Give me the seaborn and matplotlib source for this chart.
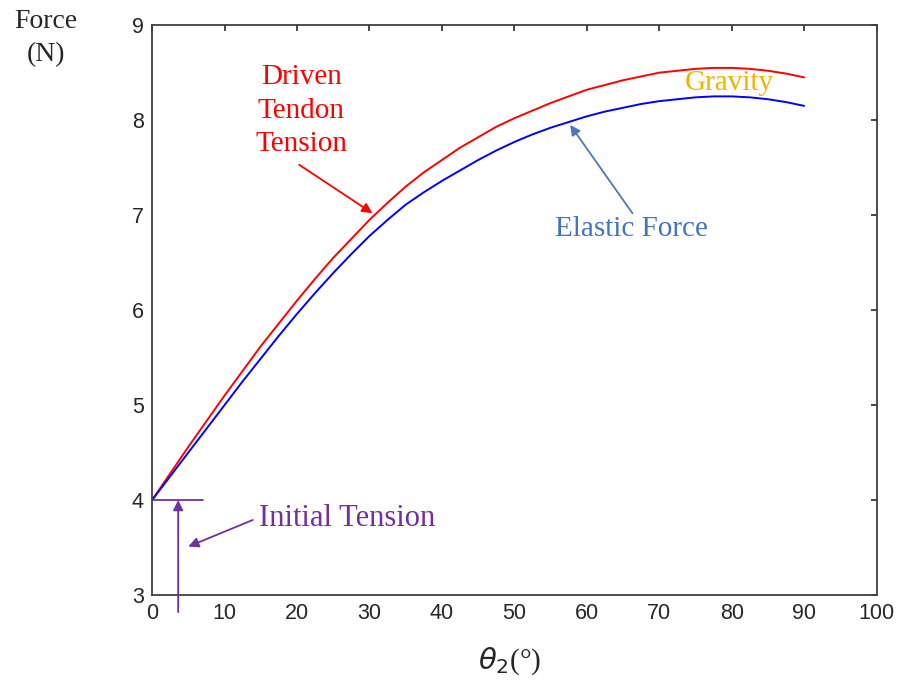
import numpy as np
import pandas as pd
import seaborn as sns
import matplotlib.pyplot as plt

# joint angle (deg) and forces (N)
theta = [0, 2.5, 5, 7.5, 10, 12.5, 15, 17.5, 20, 22.5, 25, 27.5, 30, 32.5, 35, 37.5,
         40, 42.5, 45, 47.5, 50, 52.5, 55, 57.5, 60, 62.5, 65, 67.5, 70, 72.5, 75,
         77.5, 80, 82.5, 85, 87.5, 90]
driven = [4.0, 4.28, 4.56, 4.83, 5.1, 5.36, 5.62, 5.86, 6.1, 6.33, 6.55, 6.75, 6.95,
          7.13, 7.3, 7.45, 7.58, 7.71, 7.82, 7.93, 8.02, 8.1, 8.18, 8.25, 8.32, 8.37,
          8.42, 8.46, 8.5, 8.52, 8.54, 8.55, 8.55, 8.54, 8.52, 8.49, 8.45]
elastic = [4.0, 4.25, 4.5, 4.75, 5.0, 5.25, 5.49, 5.73, 5.96, 6.18, 6.39, 6.59, 6.78,
           6.95, 7.11, 7.24, 7.36, 7.47, 7.58, 7.68, 7.77, 7.85, 7.92, 7.98, 8.04,
           8.09, 8.13, 8.17, 8.2, 8.22, 8.24, 8.25, 8.25, 8.24, 8.22, 8.19, 8.15]
initial_tension = 4.0

df = pd.DataFrame({'theta': theta * 2,
                   'force': driven + elastic,
                   'series': ['Driven'] * len(theta) + ['Elastic'] * len(theta)})

sns.set_style('white')
plt.rcParams['font.family'] = ['Liberation Sans', 'DejaVu Sans']
serif = ['Liberation Serif', 'DejaVu Serif']

fig = plt.figure(figsize=(9, 6.8), dpi=100)
ax = fig.add_axes([0.169, 0.125, 0.805, 0.838])

sns.lineplot(data=df, x='theta', y='force', hue='series',
             palette={'Driven': '#ff0000', 'Elastic': '#0000ff'},
             linewidth=1.4, legend=False, ax=ax)

ax.set_xlim(0, 100)
ax.set_ylim(3, 9)
ax.set_xticks(range(0, 101, 10))
ax.set_yticks(range(3, 10))
ax.tick_params(direction='in', length=4, width=1.2, labelsize=15.5,
               top=True, right=True, colors='#262626', pad=6)
for s in ax.spines.values():
    s.set_color('#404040')
    s.set_linewidth(1.3)

ax.set_xlabel('')
ax.set_ylabel('')
fig.text(510 / 900, 0.028, r'$\theta_2$(°)', ha='center', va='center',
         fontsize=21, family=serif)
fig.text(0.051, 0.944, 'Force\n(N)', ha='center', va='center', fontsize=20,
         family=serif, linespacing=1.45)

arrow = dict(arrowstyle='-|>', lw=1.3, mutation_scale=15, shrinkA=0, shrinkB=0)

# initial tension marker
purple = '#7030a0'
ax.plot([0, 7.0], [initial_tension, initial_tension], color=purple, lw=1.3)
ax.annotate('', xy=(3.6, initial_tension), xytext=(3.6, 2.82),
            arrowprops=dict(arrow, color=purple), annotation_clip=False)
ax.annotate('', xy=(5.0, 3.51), xytext=(13.9, 3.79),
            arrowprops=dict(arrow, color=purple))
ax.text(14.7, 3.81, 'Initial Tension', color=purple, fontsize=22, family=serif,
        ha='left', va='center')

ax.text(20.6, 8.1, 'Driven\nTendon\nTension', color='#ff0000', fontsize=21,
        family=serif, ha='center', va='center', linespacing=1.38)
ax.annotate('', xy=(30.4, 7.02), xytext=(20.3, 7.53),
            arrowprops=dict(arrow, color='#ff0000'))

ax.text(66.2, 6.85, 'Elastic Force', color='#4472c4', fontsize=21, family=serif,
        ha='center', va='center')
ax.annotate('', xy=(57.7, 7.95), xytext=(66.3, 7.02),
            arrowprops=dict(arrow, color='#4a78b8'))

ax.text(79.7, 8.39, 'Gravity', color='#f0b400', fontsize=21, family=serif,
        ha='center', va='center')

fig.savefig('out.png', dpi=100)
